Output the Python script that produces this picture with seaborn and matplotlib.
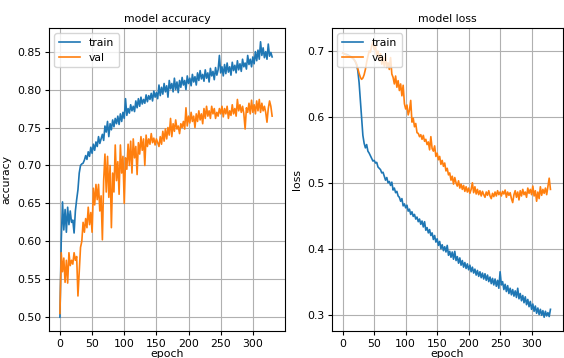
import matplotlib
matplotlib.use('Agg')
import matplotlib.pyplot as plt
import numpy as np
import pandas as pd
import seaborn as sns

epochs = list(range(0, 332, 2))

train_acc = [
    0.500, 0.600, 0.652, 0.615, 0.642, 0.612, 0.645, 0.622, 0.640, 0.625,
    0.628, 0.611, 0.640, 0.655, 0.668, 0.690, 0.700, 0.702, 0.703, 0.707,
    0.713, 0.708, 0.718, 0.712, 0.724, 0.716, 0.728, 0.720, 0.731, 0.725,
    0.738, 0.729, 0.735, 0.741, 0.733, 0.752, 0.744, 0.758, 0.738, 0.755,
    0.747, 0.760, 0.751, 0.762, 0.755, 0.765, 0.754, 0.768, 0.758, 0.770,
    0.762, 0.788, 0.766, 0.775, 0.769, 0.780, 0.772, 0.778, 0.771, 0.785,
    0.776, 0.788, 0.778, 0.790, 0.781, 0.787, 0.782, 0.793, 0.784, 0.792,
    0.787, 0.795, 0.785, 0.798, 0.790, 0.796, 0.788, 0.806, 0.792, 0.803,
    0.794, 0.808, 0.797, 0.805, 0.790, 0.812, 0.801, 0.808, 0.797, 0.815,
    0.800, 0.810, 0.796, 0.812, 0.803, 0.816, 0.806, 0.812, 0.800, 0.818,
    0.808, 0.815, 0.805, 0.820, 0.810, 0.817, 0.806, 0.822, 0.812, 0.825,
    0.814, 0.820, 0.811, 0.826, 0.815, 0.822, 0.810, 0.828, 0.818, 0.824,
    0.813, 0.829, 0.819, 0.826, 0.845, 0.822, 0.830, 0.818, 0.833, 0.821,
    0.835, 0.823, 0.830, 0.819, 0.836, 0.825, 0.832, 0.822, 0.838, 0.826,
    0.834, 0.824, 0.840, 0.830, 0.835, 0.827, 0.845, 0.833, 0.840, 0.830,
    0.843, 0.834, 0.850, 0.838, 0.852, 0.840, 0.863, 0.845, 0.855, 0.842,
    0.850, 0.840, 0.860, 0.844, 0.849, 0.843,
]

val_acc = [
    0.505, 0.585, 0.560, 0.578, 0.546, 0.575, 0.545, 0.585, 0.568, 0.575,
    0.570, 0.585, 0.575, 0.580, 0.528, 0.560, 0.592, 0.600, 0.625, 0.612,
    0.630, 0.618, 0.645, 0.622, 0.638, 0.612, 0.670, 0.648, 0.675, 0.655,
    0.675, 0.640, 0.660, 0.602, 0.680, 0.715, 0.665, 0.712, 0.658, 0.700,
    0.618, 0.690, 0.665, 0.727, 0.680, 0.705, 0.662, 0.727, 0.690, 0.712,
    0.650, 0.710, 0.695, 0.728, 0.700, 0.732, 0.690, 0.735, 0.710, 0.725,
    0.688, 0.730, 0.715, 0.738, 0.720, 0.735, 0.700, 0.740, 0.725, 0.735,
    0.728, 0.742, 0.730, 0.736, 0.727, 0.735, 0.730, 0.725, 0.738, 0.728,
    0.745, 0.732, 0.748, 0.735, 0.750, 0.740, 0.762, 0.738, 0.755, 0.745,
    0.760, 0.748, 0.752, 0.742, 0.755, 0.750, 0.758, 0.748, 0.776, 0.752,
    0.765, 0.756, 0.770, 0.758, 0.765, 0.750, 0.768, 0.758, 0.772, 0.760,
    0.768, 0.755, 0.775, 0.762, 0.778, 0.765, 0.772, 0.762, 0.778, 0.768,
    0.775, 0.762, 0.770, 0.765, 0.775, 0.768, 0.778, 0.764, 0.775, 0.768,
    0.778, 0.762, 0.772, 0.766, 0.780, 0.768, 0.775, 0.765, 0.787, 0.772,
    0.780, 0.770, 0.778, 0.768, 0.748, 0.776, 0.770, 0.782, 0.768, 0.786,
    0.770, 0.780, 0.768, 0.785, 0.772, 0.787, 0.770, 0.782, 0.772, 0.778,
    0.770, 0.757, 0.775, 0.785, 0.778, 0.765,
]

train_loss = [
    0.697, 0.696, 0.695, 0.695, 0.694, 0.693, 0.692, 0.691, 0.689, 0.687,
    0.684, 0.679, 0.670, 0.652, 0.625, 0.597, 0.572, 0.560, 0.553, 0.558,
    0.548, 0.545, 0.541, 0.537, 0.533, 0.534, 0.530, 0.531, 0.524, 0.522,
    0.520, 0.515, 0.516, 0.510, 0.504, 0.508, 0.500, 0.502, 0.496, 0.501,
    0.489, 0.492, 0.485, 0.487, 0.480, 0.478, 0.472, 0.476, 0.465, 0.468,
    0.462, 0.466, 0.457, 0.460, 0.452, 0.456, 0.449, 0.452, 0.445, 0.448,
    0.441, 0.445, 0.437, 0.442, 0.433, 0.441, 0.428, 0.432, 0.424, 0.429,
    0.420, 0.424, 0.414, 0.420, 0.410, 0.415, 0.405, 0.411, 0.400, 0.406,
    0.397, 0.403, 0.395, 0.405, 0.390, 0.396, 0.387, 0.395, 0.384, 0.396,
    0.382, 0.388, 0.378, 0.386, 0.375, 0.382, 0.372, 0.379, 0.370, 0.377,
    0.368, 0.375, 0.365, 0.372, 0.363, 0.369, 0.360, 0.367, 0.358, 0.365,
    0.356, 0.363, 0.354, 0.362, 0.352, 0.360, 0.350, 0.357, 0.347, 0.355,
    0.345, 0.354, 0.343, 0.352, 0.340, 0.365, 0.345, 0.350, 0.338, 0.346,
    0.335, 0.344, 0.332, 0.340, 0.330, 0.338, 0.328, 0.336, 0.326, 0.340,
    0.324, 0.332, 0.321, 0.329, 0.318, 0.327, 0.315, 0.323, 0.312, 0.320,
    0.308, 0.316, 0.305, 0.313, 0.302, 0.310, 0.300, 0.308, 0.299, 0.306,
    0.296, 0.305, 0.298, 0.303, 0.297, 0.308,
]

val_loss = [
    0.697, 0.696, 0.695, 0.694, 0.693, 0.692, 0.691, 0.690, 0.689, 0.687,
    0.684, 0.680, 0.673, 0.666, 0.660, 0.657, 0.659, 0.664, 0.672, 0.683,
    0.692, 0.700, 0.698, 0.708, 0.714, 0.702, 0.708, 0.692, 0.700, 0.685,
    0.696, 0.680, 0.690, 0.677, 0.694, 0.675, 0.682, 0.672, 0.690, 0.665,
    0.660, 0.650, 0.662, 0.645, 0.655, 0.640, 0.650, 0.632, 0.648, 0.620,
    0.612, 0.618, 0.603, 0.610, 0.625, 0.592, 0.598, 0.585, 0.590, 0.576,
    0.575, 0.570, 0.573, 0.566, 0.572, 0.563, 0.566, 0.558, 0.562, 0.550,
    0.570, 0.552, 0.548, 0.556, 0.540, 0.545, 0.535, 0.540, 0.528, 0.534,
    0.525, 0.530, 0.518, 0.522, 0.512, 0.515, 0.504, 0.510, 0.498, 0.508,
    0.500, 0.495, 0.503, 0.492, 0.498, 0.490, 0.496, 0.487, 0.494, 0.486,
    0.492, 0.484, 0.490, 0.500, 0.485, 0.494, 0.483, 0.490, 0.482, 0.488,
    0.480, 0.487, 0.482, 0.478, 0.486, 0.481, 0.488, 0.480, 0.476, 0.484,
    0.479, 0.486, 0.480, 0.488, 0.482, 0.486, 0.480, 0.487, 0.483, 0.489,
    0.478, 0.486, 0.481, 0.485, 0.476, 0.470, 0.482, 0.488, 0.478, 0.486,
    0.474, 0.488, 0.480, 0.490, 0.482, 0.486, 0.478, 0.492, 0.484, 0.490,
    0.482, 0.495, 0.480, 0.488, 0.472, 0.486, 0.476, 0.494, 0.481, 0.490,
    0.484, 0.492, 0.482, 0.495, 0.507, 0.490,
]

FS = 7.8
plt.rcParams['font.size'] = FS
plt.rcParams['grid.color'] = '#b0b0b0'
plt.rcParams['grid.linewidth'] = 0.8

fig = plt.figure(figsize=(5.64, 3.58), dpi=100)
ax1 = fig.add_axes([0.0869, 0.0754, 0.4184, 0.8464])
ax2 = fig.add_axes([0.5887, 0.0754, 0.4096, 0.8464])

panels = [
    (ax1, train_acc, val_acc, 'model accuracy', 'accuracy'),
    (ax2, train_loss, val_loss, 'model loss', 'loss'),
]
for ax, tr, va, title, ylab in panels:
    df = pd.DataFrame({'epoch': epochs, 'train': tr, 'val': va})
    sns.lineplot(data=df, x='epoch', y='train', ax=ax, label='train',
                 color='#1f77b4', linewidth=1.2)
    sns.lineplot(data=df, x='epoch', y='val', ax=ax, label='val',
                 color='#ff7f0e', linewidth=1.2)
    ax.set_title(title, fontsize=FS, pad=4)
    ax.set_xlabel('epoch', fontsize=FS, labelpad=0)
    ax.set_ylabel(ylab, fontsize=FS)
    ax.set_xlim(-17, 350)
    ax.set_xticks([0, 50, 100, 150, 200, 250, 300])
    ax.grid(True)
    ax.tick_params(labelsize=FS, width=0.8, length=3, pad=2.5)
    ax.legend(loc='upper left', fontsize=FS)

fig.savefig('out.png', dpi=100)
